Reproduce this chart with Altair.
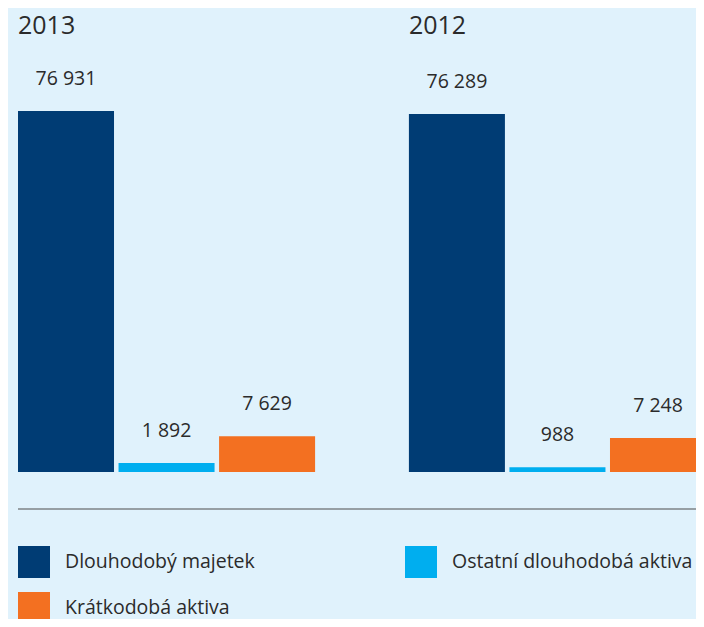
import altair as alt
import pandas as pd

years = ["2013", "2012"]
categories = ["Dlouhodobý majetek", "Ostatní dlouhodobá aktiva", "Krátkodobá aktiva"]
values_2013 = [76931, 1892, 7629]
values_2012 = [76289, 988, 7248]
colors = ["#003c74", "#00aeef", "#f37021"]

rows = []
for yr, vals in zip(years, [values_2013, values_2012]):
    for c, v in zip(categories, vals):
        rows.append({"year": yr, "cat": c, "value": v,
                     "label": f"{v:,}".replace(",", " ")})
df = pd.DataFrame(rows)
title_df = pd.DataFrame({"year": years})

# legend is filled column by column: order the domain so rows read A B / C
legend_order = [categories[0], categories[2], categories[1]]
legend_colors = [colors[0], colors[2], colors[1]]

W, H = 688, 611
BG = "#e0f2fc"
TXT = "#2b2b2b"
FONT = "Open Sans"

xscale = alt.Scale(domain=years, range=[10, 698], paddingInner=0.24, paddingOuter=0)
x = alt.X("year:N", sort=years, axis=None, scale=xscale)
xo = alt.XOffset("cat:N", sort=categories,
                 scale=alt.Scale(domain=categories, paddingInner=0.045, paddingOuter=0))
y = alt.Y("value:Q", axis=None,
          scale=alt.Scale(domain=[0, 76931], range=[464, 103], nice=False, zero=True))

color = alt.Color(
    "cat:N",
    scale=alt.Scale(domain=legend_order, range=legend_colors),
    legend=alt.Legend(
        title=None, orient="none", legendX=10, legendY=538, columns=2,
        symbolType="square", symbolSize=1024, symbolStrokeWidth=0,
        labelFont=FONT, labelFontSize=19.5, labelColor=TXT, labelOffset=15,
        rowPadding=14, columnPadding=150, padding=0, labelLimit=400,
    ),
)

bars = alt.Chart(df).mark_bar(clip=True).encode(x=x, xOffset=xo, y=y, color=color)

labels = alt.Chart(df).mark_text(
    dy=-26, baseline="alphabetic", fontSize=19.5, font=FONT, color=TXT
).encode(x=x, xOffset=xo, y=y, text="label:N")

titles = alt.Chart(title_df).mark_text(
    align="left", baseline="alphabetic", fontSize=25, font=FONT, color=TXT
).encode(
    x=alt.X("year:N", sort=years, axis=None, scale=xscale, bandPosition=0),
    y=alt.value(26),
    text="year:N",
)

rule = alt.Chart(pd.DataFrame({"a": [0]})).mark_rule(color="#4d4d4d", strokeWidth=1).encode(
    x=alt.value(10), x2=alt.value(688), y=alt.value(501)
)

chart = alt.layer(bars, labels, titles, rule).properties(
    width=W, height=H, padding=0, background=BG,
    autosize=alt.AutoSizeParams(type="none"),
).configure_view(stroke=None)

chart.save("out.html", embed_options={"renderer": "svg", "actions": False})
